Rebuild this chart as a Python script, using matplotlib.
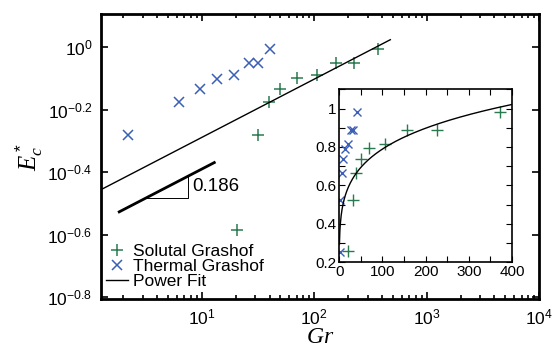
import numpy as np
import matplotlib.pyplot as plt
from matplotlib.ticker import FixedLocator, NullLocator, LogLocator, NullFormatter

plt.rcParams['font.family'] = ['Liberation Sans', 'DejaVu Sans']
plt.rcParams['mathtext.fontset'] = 'custom'
plt.rcParams['mathtext.rm'] = 'Liberation Sans'
plt.rcParams['mathtext.it'] = 'Liberation Serif:italic'

# data
gr_solutal = [20.5, 31.5, 39.6, 49.7, 69.8, 105, 156, 226, 372]
ec_solutal = [0.261, 0.523, 0.666, 0.735, 0.795, 0.815, 0.888, 0.888, 0.981]
gr_thermal = [0.8, 2.2, 6.2, 9.66, 13.7, 19.4, 26.3, 31.8, 40.5]
ec_thermal = [0.252, 0.523, 0.666, 0.735, 0.792, 0.815, 0.888, 0.888, 0.981]

fit_coef = 0.335
fit_exp = 0.186
slope_label = '0.186'

green = '#2a7a50'
blue = '#3b5fb5'

fig = plt.figure(figsize=(5.57, 3.49), dpi=100)
ax = fig.add_axes([0.1808, 0.1433, 0.787, 0.8166])
ax.set_xscale('log')
ax.set_yscale('log')

ax.plot(gr_solutal, ec_solutal, '+', color=green, ms=9, mew=1.1,
        label='Solutal Grashof')
ax.plot(gr_thermal, ec_thermal, 'x', color=blue, ms=7, mew=1.1,
        label='Thermal Grashof')
gfit = np.logspace(0, np.log10(475), 100)
ax.plot(gfit, fit_coef * gfit ** fit_exp, '-', color='black', lw=1.0,
        label='Power Fit')

# slope triangle
tri_c = 10 ** -0.576
gs = np.array([1.84, 12.9])
ax.plot(gs, tri_c * gs ** fit_exp, '-', color='black', lw=2.0)
x0, x1 = 10 ** 0.5, 10 ** 0.877
y0, y1 = tri_c * x0 ** fit_exp, tri_c * x1 ** fit_exp
ax.plot([x0, x1, x1], [y0, y0, y1], '-', color='black', lw=0.7)
ax.text(x1 * 1.08, 10 ** -0.447, slope_label, fontsize=13.5, va='center', ha='left')

ax.set_xlim(10 ** 0.1, 1e4)
ax.set_ylim(10 ** -0.805, 10 ** 0.105)

ax.xaxis.set_major_locator(FixedLocator([10, 100, 1000, 10000]))
ax.xaxis.set_minor_locator(LogLocator(base=10, subs=np.arange(2, 10), numticks=20))
ax.xaxis.set_minor_formatter(NullFormatter())
ax.set_xticklabels([r'$\mathregular{10^{1}}$', r'$\mathregular{10^{2}}$',
                    r'$\mathregular{10^{3}}$', r'$\mathregular{10^{4}}$'])
yt = [-0.8, -0.6, -0.4, -0.2, 0]
ax.yaxis.set_major_locator(FixedLocator([10 ** v for v in yt]))
ax.yaxis.set_minor_locator(NullLocator())
ax.set_yticklabels([r'$\mathregular{10^{%s}}$' % ('%g' % v) for v in yt])

ax.tick_params(which='both', direction='in', top=True, right=True,
               labelsize=12.5, width=1.2)
ax.tick_params(which='major', length=5, pad=6)
ax.tick_params(which='minor', length=3)
for s in ax.spines.values():
    s.set_linewidth(2.0)

ax.set_xlabel(r'$Gr$', fontsize=17, labelpad=-1)
ax.set_ylabel(r'$E_c^*$', fontsize=18, labelpad=2)

leg = ax.legend(loc='lower left', bbox_to_anchor=(-0.01, 0.0), frameon=False,
                fontsize=12.5, handlelength=1.25, handletextpad=0.3,
                labelspacing=0.0, borderaxespad=0.45, borderpad=0.1)

# inset
ins = fig.add_axes([0.609, 0.2484, 0.310, 0.4957])
ins.plot(gr_solutal, ec_solutal, '+', color=green, ms=8, mew=1.0)
ins.plot(gr_thermal, ec_thermal, 'x', color=blue, ms=6, mew=1.0)
gin = np.linspace(0.5, 400, 400)
ins.plot(gin, fit_coef * gin ** fit_exp, '-', color='black', lw=1.0)
ins.set_xlim(0, 400)
ins.set_ylim(0.2, 1.1)
ins.set_xticks([0, 100, 200, 300, 400])
ins.set_xticks([50, 150, 250, 350], minor=True)
ins.set_yticks([0.2, 0.4, 0.6, 0.8, 1.0])
ins.set_yticklabels(['0.2', '0.4', '0.6', '0.8', '1'])
ins.set_yticks([0.3, 0.5, 0.7, 0.9, 1.1], minor=True)
ins.tick_params(which='both', direction='in', top=True, right=True,
                labelsize=11, length=4, width=0.8, pad=2)
for s in ins.spines.values():
    s.set_linewidth(1.2)

fig.savefig('out.png', dpi=100)
